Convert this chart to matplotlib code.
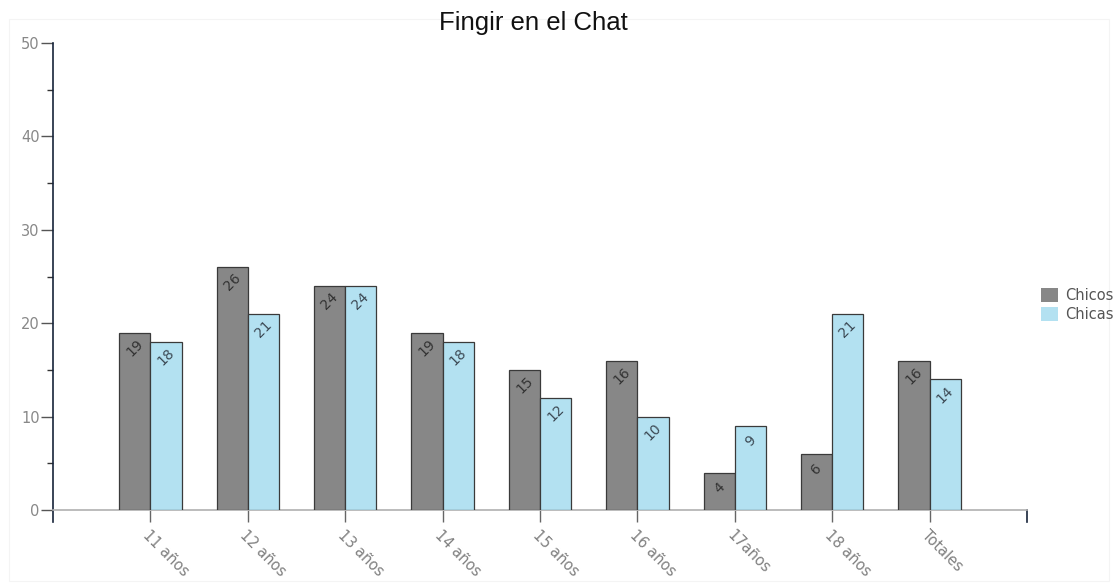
import matplotlib
matplotlib.use("Agg")
import matplotlib.pyplot as plt
import numpy as np
from matplotlib.patches import Rectangle

categories = ["11 años", "12 años", "13 años", "14 años", "15 años", "16 años", "17años", "18 años", "Totales"]
chicos = [19, 26, 24, 19, 15, 16, 4, 6, 16]
chicas = [18, 21, 24, 18, 12, 10, 9, 21, 14]
series_names = ["Chicos", "Chicas"]
title = "Fingir en el Chat"

W, H = 1118, 585
fig = plt.figure(figsize=(W / 100, H / 100), dpi=100)
fig.patches.append(Rectangle((9 / W, 4 / H), 1100 / W, 562 / H, transform=fig.transFigure,
                             fill=False, edgecolor="#f4f4f4", linewidth=0.8))
ax = fig.add_axes([53 / W, 75 / H, (1027 - 53) / W, (510 - 43) / H])

x = np.arange(len(categories))
bw = 0.32
c_gray = "#878787"
c_blue = "#b3e1f1"
b1 = ax.bar(x - bw / 2, chicos, bw, color=c_gray, edgecolor="#3a3a3a", linewidth=0.9, label=series_names[0], zorder=3)
b2 = ax.bar(x + bw / 2, chicas, bw, color=c_blue, edgecolor="#3a3a3a", linewidth=0.9, label=series_names[1], zorder=3)

ax.set_xlim(-1, 9)
ax.set_ylim(0, 50)

for xs, vals, col in [(x - bw / 2, chicos, "#333333"), (x + bw / 2, chicas, "#3d4a55")]:
    for xi, v in zip(xs, vals):
        ax.annotate(str(v), (xi, v), xytext=(0, -11), textcoords="offset points",
                    rotation=45, ha="center", va="center", fontsize=10, color=col, zorder=4)

for s in ["top", "right"]:
    ax.spines[s].set_visible(False)
ax.spines["left"].set_color("#16243a")
ax.spines["left"].set_linewidth(1.2)
ax.spines["left"].set_bounds(-1.3, 50)
ax.spines["bottom"].set_color("#b0b0b0")
ax.spines["bottom"].set_linewidth(1.2)

ax.set_yticks([0, 10, 20, 30, 40, 50])
ax.set_yticks([5, 15, 25, 35, 45], minor=True)
ax.tick_params(axis="y", which="major", length=8.5, width=1, color="#555555", labelcolor="#888888", labelsize=10.5, pad=1)
ax.tick_params(axis="y", which="minor", length=4.5, width=1, color="#333333")

ax.set_xticks(x)
ax.set_xticklabels(categories)
ax.tick_params(axis="x", length=8.5, width=1, color="#666666", labelcolor="#808080", labelsize=10.5, pad=4)
for lab in ax.get_xticklabels():
    lab.set_rotation(-45)
    lab.set_ha("left")
    lab.set_va("top")
    lab.set_rotation_mode("anchor")

ax.plot([9, 9], [0, -1.3], color="#16243a", linewidth=1.2, clip_on=False)

fig.text(533 / W, 1 - 23 / H, title, ha="center", va="center", fontsize=18.5,
         family="Liberation Sans", color="#111111")

leg = fig.legend(handles=[b1, b2], labels=series_names, loc="center left",
                 bbox_to_anchor=(1031 / W, 1 - 305 / H), frameon=False, fontsize=10.5,
                 handlelength=1.15, handleheight=1.15, handletextpad=0.5, labelspacing=0.25,
                 borderpad=0.2)
for t in leg.get_texts():
    t.set_color("#555555")
for h in leg.legend_handles:
    h.set_edgecolor("none")

fig.savefig("out.png", dpi=100)
